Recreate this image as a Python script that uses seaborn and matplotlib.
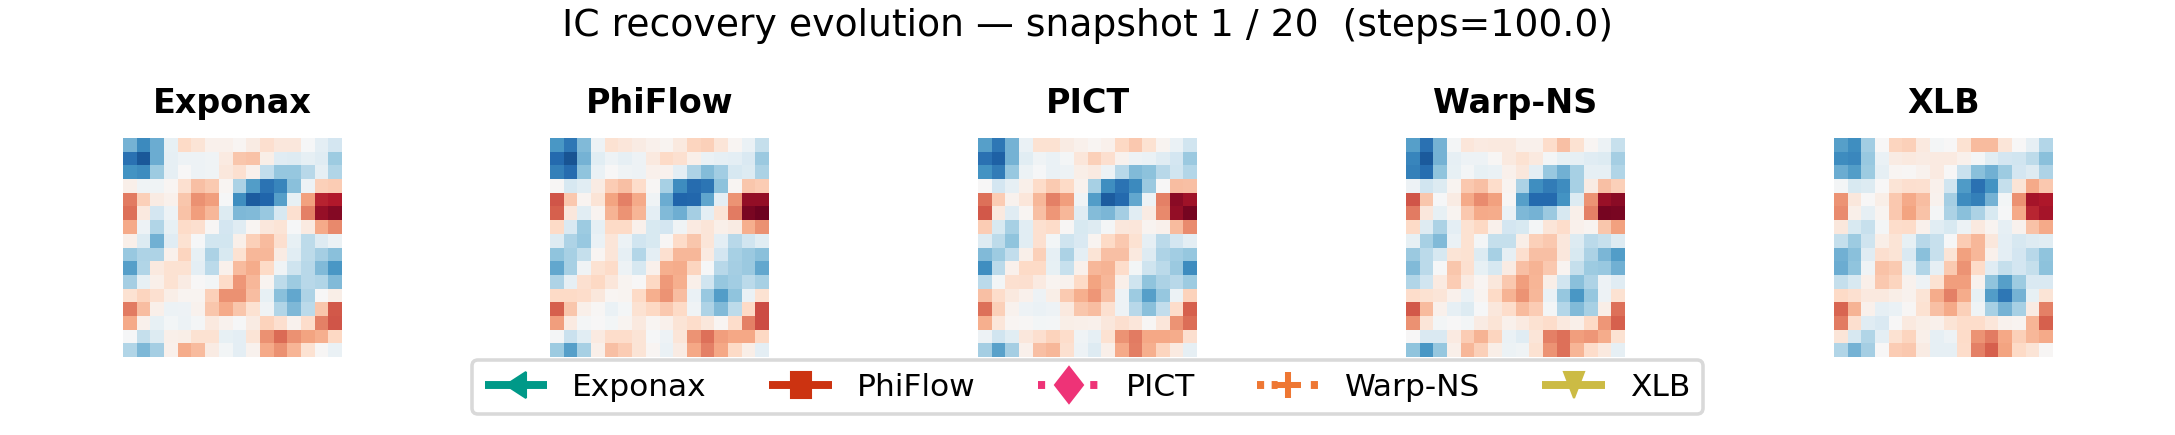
"""IC recovery snapshot: one heatmap per solver with a shared legend."""

import matplotlib

matplotlib.use('Agg')
import matplotlib.pyplot as plt
import numpy as np
import seaborn as sns
from matplotlib.lines import Line2D
from matplotlib.markers import MarkerStyle
from matplotlib.transforms import Affine2D

SOLVERS = ['Exponax', 'PhiFlow', 'PICT', 'Warp-NS', 'XLB']
SUPTITLE = 'IC recovery evolution — snapshot 1 / 20  (steps=100.0)'

EXPONAX = [
    [-.47, -.64, -.50, -.08, .20, .14, .05, .05, .02, .08, .17, .11, .11, -.01, -.10, -.18],
    [-.75, -.85, -.50, -.09, -.05, -.05, -.04, .09, .28, .29, .07, -.12, -.13, -.09, -.12, -.36],
    [-.60, -.63, -.36, -.09, .00, -.05, -.04, .11, .16, .05, -.25, -.39, -.39, -.28, -.09, -.30],
    [.06, -.04, -.04, .02, .16, .30, .26, .02, -.32, -.56, -.74, -.66, -.42, -.05, .24, .25],
    [.52, .24, .08, .05, .28, .46, .42, -.01, -.62, -.83, -.80, -.55, -.08, .41, .77, .80],
    [.55, .10, -.18, -.05, .29, .42, .33, -.14, -.45, -.44, -.38, -.17, .16, .50, .87, .92],
    [.38, -.05, -.30, -.08, .19, .17, .01, -.18, -.12, .02, .11, .14, -.01, .09, .38, .48],
    [.06, -.14, -.48, -.12, .15, -.01, -.19, -.19, .06, .24, .32, .17, -.08, -.26, -.13, -.06],
    [-.38, -.31, -.31, .05, .22, -.08, -.32, -.16, .15, .33, .33, .08, -.11, -.26, -.34, -.42],
    [-.55, -.30, .10, .15, .15, -.10, -.27, .05, .32, .37, .20, -.04, -.21, -.28, -.44, -.58],
    [-.34, -.08, .06, .15, .08, .00, -.03, .19, .44, .33, .03, -.26, -.36, -.28, -.30, -.44],
    [.15, .22, .16, .07, .03, .03, .24, .46, .46, .31, -.08, -.42, -.52, -.31, .00, .07],
    [.52, .31, .06, -.06, -.05, .04, .28, .38, .28, .15, -.04, -.30, -.45, -.27, .28, .62],
    [.38, .05, -.08, -.03, -.06, -.02, .10, .04, -.01, .08, .23, .17, .04, .18, .50, .63],
    [-.01, -.24, -.14, .06, .07, .15, .15, -.08, -.10, .14, .46, .57, .46, .40, .36, .21],
    [-.30, -.45, -.34, .05, .37, .32, .08, -.03, -.10, .04, .38, .46, .34, .15, .01, -.07],
]
PHIFLOW = [
    [-.58, -.72, -.44, -.05, .15, .12, .08, .05, .03, .10, .22, .24, .13, .02, -.07, -.24],
    [-.78, -.86, -.47, -.11, -.05, -.09, -.05, .10, .20, .16, .06, -.07, -.09, -.10, -.15, -.37],
    [-.68, -.77, -.40, -.07, .00, -.04, -.05, .05, .04, -.10, -.31, -.43, -.35, -.17, -.14, -.32],
    [.01, -.17, -.11, .08, .25, .30, .18, .01, -.33, -.63, -.77, -.73, -.41, .02, .28, .25],
    [.63, .27, .03, .14, .40, .50, .38, -.04, -.50, -.80, -.79, -.53, -.10, .45, .88, .88],
    [.60, .11, -.11, .03, .35, .45, .34, -.10, -.44, -.49, -.34, -.10, .14, .52, .95, .98],
    [.20, -.15, -.36, -.09, .20, .20, .05, -.16, -.18, -.04, .09, .13, .06, .08, .36, .46],
    [-.13, -.31, -.38, -.07, .13, -.06, -.20, -.16, .01, .19, .28, .13, -.10, -.28, -.20, -.11],
    [-.40, -.33, -.24, .02, .13, -.09, -.29, -.10, .16, .33, .33, .09, -.18, -.33, -.37, -.42],
    [-.52, -.33, -.04, .15, .19, -.05, -.17, .05, .36, .37, .22, -.01, -.28, -.34, -.37, -.52],
    [-.31, -.09, .16, .21, .12, .03, .00, .21, .43, .36, .06, -.20, -.39, -.35, -.27, -.33],
    [.20, .20, .18, .11, .02, .03, .20, .36, .45, .31, -.07, -.38, -.56, -.40, -.07, .15],
    [.60, .28, .06, .01, -.07, -.02, .15, .21, .27, .20, -.04, -.31, -.44, -.26, .20, .65],
    [.42, .09, -.02, .00, -.03, .03, .10, .02, .05, .14, .18, .11, .02, .18, .50, .65],
    [-.02, -.22, -.11, .09, .18, .18, .14, -.01, -.05, .13, .45, .55, .42, .39, .39, .21],
    [-.36, -.55, -.33, .06, .30, .25, .14, .02, -.07, .08, .39, .50, .39, .20, .07, -.10],
]
PICT = [
    [-.55, -.72, -.47, -.07, .15, .15, .08, .05, .02, .05, .21, .27, .15, .03, -.07, -.20],
    [-.75, -.82, -.47, -.11, -.04, -.07, -.02, .12, .24, .17, .04, -.05, -.07, -.12, -.18, -.37],
    [-.60, -.70, -.38, -.06, -.01, -.07, -.05, .07, .09, -.05, -.28, -.44, -.41, -.28, -.20, -.29],
    [.00, -.18, -.09, .06, .19, .26, .20, .04, -.33, -.62, -.74, -.64, -.37, .00, .31, .30],
    [.55, .25, .04, .12, .33, .50, .42, -.04, -.56, -.83, -.78, -.52, -.05, .50, .90, .85],
    [.62, .10, -.12, .02, .30, .44, .33, -.12, -.43, -.46, -.34, -.11, .08, .48, .88, .96],
    [.25, -.16, -.33, -.11, .16, .19, .01, -.16, -.13, -.02, .11, .12, .03, .05, .32, .47],
    [-.13, -.26, -.40, -.11, .16, -.03, -.21, -.15, .03, .20, .27, .15, -.09, -.27, -.18, -.10],
    [-.44, -.36, -.25, .06, .24, -.09, -.32, -.10, .14, .30, .30, .10, -.13, -.31, -.35, -.39],
    [-.62, -.27, .05, .20, .20, -.08, -.23, .05, .33, .35, .18, -.03, -.21, -.27, -.37, -.63],
    [-.27, -.03, .16, .17, .09, .03, .04, .20, .40, .33, .06, -.21, -.40, -.32, -.28, -.36],
    [.30, .18, .10, .05, -.05, .07, .26, .36, .44, .30, -.05, -.36, -.55, -.39, -.06, .23],
    [.55, .24, .04, -.05, -.07, -.05, .10, .28, .31, .16, -.05, -.28, -.42, -.25, .18, .60],
    [.36, .12, .02, .01, -.03, -.02, .07, .06, .05, .11, .17, .12, .01, .12, .45, .56],
    [-.05, -.20, -.11, .11, .17, .23, .18, -.04, -.09, .15, .45, .52, .39, .39, .37, .17],
    [-.34, -.54, -.34, .05, .30, .33, .16, -.05, -.13, .06, .38, .51, .36, .22, .09, -.09],
]
WARP_NS = [
    [-.55, -.75, -.47, -.02, .12, .09, .10, .10, .05, .05, .18, .30, .15, .02, -.06, -.23],
    [-.66, -.84, -.47, -.09, -.05, -.05, .01, .10, .15, .10, -.02, -.08, -.09, -.12, -.14, -.34],
    [-.68, -.76, -.40, -.08, -.02, -.08, -.07, .05, .11, -.10, -.38, -.48, -.33, -.09, -.09, -.30],
    [-.05, -.20, -.14, .03, .27, .30, .18, .03, -.32, -.62, -.70, -.63, -.33, .08, .30, .24],
    [.63, .28, -.01, .08, .38, .47, .41, .01, -.55, -.78, -.78, -.60, -.14, .45, .86, .90],
    [.52, .11, -.08, .03, .27, .38, .37, -.07, -.45, -.47, -.37, -.17, .06, .50, .96, .95],
    [.20, -.13, -.32, -.10, .15, .21, .05, -.18, -.16, -.02, .13, .18, .05, .03, .28, .41],
    [-.08, -.33, -.44, -.07, .15, -.02, -.24, -.24, .07, .24, .27, .11, -.14, -.27, -.23, -.13],
    [-.37, -.27, -.17, .14, .15, -.14, -.33, -.09, .17, .30, .30, .11, -.16, -.32, -.46, -.56],
    [-.44, -.27, -.01, .28, .16, -.08, -.17, .08, .30, .35, .27, .03, -.24, -.36, -.38, -.48],
    [-.30, -.20, .09, .25, .09, .02, .11, .27, .42, .34, .07, -.20, -.42, -.31, -.05, -.12],
    [.18, .15, .13, .05, -.07, .03, .20, .35, .45, .33, -.07, -.39, -.58, -.39, -.05, .15],
    [.62, .32, .05, -.09, -.14, -.01, .11, .18, .32, .25, -.02, -.29, -.44, -.33, .07, .55],
    [.46, .13, -.03, .00, -.03, .08, .14, .05, .09, .15, .18, .10, .06, .20, .44, .60],
    [.00, -.15, -.15, .09, .25, .35, .22, -.07, -.12, .13, .50, .55, .42, .44, .37, .15],
    [-.40, -.58, -.39, .06, .33, .24, .07, -.06, -.04, .15, .45, .55, .34, .18, .10, -.09],
]
XLB = [
    [-.55, -.62, -.35, .00, .22, .24, .10, -.02, .00, .15, .32, .32, .13, .00, -.09, -.29],
    [-.63, -.65, -.38, -.07, .08, .10, .08, .09, .09, .05, -.02, -.11, -.18, -.20, -.26, -.42],
    [-.50, -.56, -.36, -.09, .02, .01, .04, .09, .00, -.22, -.42, -.48, -.36, -.18, -.13, -.31],
    [-.02, -.16, -.14, .00, .14, .17, .16, .05, -.20, -.57, -.75, -.60, -.24, .14, .38, .27],
    [.45, .11, .00, .07, .27, .38, .31, .04, -.34, -.63, -.68, -.47, -.03, .46, .83, .81],
    [.47, .06, -.09, .03, .27, .40, .29, -.02, -.32, -.42, -.32, -.16, -.01, .38, .76, .83],
    [.11, -.16, -.23, -.02, .18, .19, .05, -.11, -.16, -.06, .10, .03, -.09, .04, .29, .38],
    [-.24, -.36, -.21, .07, .14, -.08, -.28, -.23, -.01, .25, .33, .11, -.10, -.17, -.13, -.11],
    [-.48, -.42, -.12, .17, .14, -.15, -.42, -.23, .14, .41, .33, .05, -.10, -.18, -.28, -.40],
    [-.50, -.40, -.04, .29, .26, -.08, -.30, -.09, .26, .45, .19, -.12, -.24, -.18, -.24, -.41],
    [-.24, -.16, .06, .27, .22, .04, -.05, .15, .42, .42, .04, -.40, -.55, -.36, -.15, -.15],
    [.20, .16, .10, .10, .07, .04, .14, .37, .50, .37, -.08, -.56, -.72, -.47, -.08, .14],
    [.58, .35, .05, -.09, -.07, .01, .15, .30, .38, .24, -.04, -.33, -.47, -.33, .08, .50],
    [.52, .17, -.12, -.15, .00, .10, .07, .05, .14, .18, .18, .12, .04, .03, .34, .60],
    [.13, -.17, -.30, -.10, .15, .22, .06, -.09, -.05, .19, .45, .52, .39, .24, .33, .38],
    [-.30, -.47, -.34, .00, .25, .27, .08, -.09, -.09, .18, .50, .60, .40, .20, .14, .01],
]
FIELDS = [EXPONAX, PHIFLOW, PICT, WARP_NS, XLB]

COLORS = ['#009988', '#cc3311', '#ee3377', '#ee7733', '#ccbb44']
MARKERS = ['<', 's', 'D', '+', 'v']
LINESTYLES = ['-', '-', (0, (0.9, 5.7)), (0, (0.9, 0.95, 0.75, 4.2, 0.9, 1)), '-']

W, H = 2175, 435
LEFTS = [123, 550, 978, 1406, 1834]
AX_TOP, AX_BOTTOM, AX_WIDTH = 138, 357, 219


def legend_handle(name, color, marker, ls):
    # the reference markers are a little taller than wide
    is_plus = marker == '+'
    style = MarkerStyle(marker, transform=Affine2D().scale(1.05 if is_plus else 0.82, 1.05))
    return Line2D(
        [],
        [],
        color=color,
        marker=style,
        linestyle=ls,
        linewidth=3.8,
        markersize=11.5,
        markeredgewidth=2.9 if is_plus else 1,
        solid_capstyle='butt',
        dash_capstyle='butt',
        label=name,
    )


def main():
    sns.set_theme(style='white')
    plt.rcParams['font.family'] = ['DejaVu Sans']
    fig = plt.figure(figsize=(14.5, 2.9), dpi=150)

    for left, name, field in zip(LEFTS, SOLVERS, FIELDS):
        ax = fig.add_axes([left / W, 1 - AX_BOTTOM / H, AX_WIDTH / W, (AX_BOTTOM - AX_TOP) / H])
        sns.heatmap(
            np.array(field),
            ax=ax,
            cmap='RdBu_r',
            vmin=-1,
            vmax=1,
            cbar=False,
            xticklabels=False,
            yticklabels=False,
        )
        ax.set_title(name, fontsize=16, fontweight='bold', color='black', pad=12)

    fig.suptitle(SUPTITLE, fontsize=18.15, color='black', x=0.5, y=1 - 26 / H, va='center')

    handles = [legend_handle(*row) for row in zip(SOLVERS, COLORS, MARKERS, LINESTYLES)]
    legend = fig.legend(
        handles=handles,
        loc='center',
        bbox_to_anchor=(0.5, 1 - 387 / H),
        ncol=5,
        fontsize=15,
        frameon=True,
        framealpha=1,
        edgecolor='#d9d9d9',
        labelcolor='black',
    )
    legend.get_frame().set_linewidth(1.7)

    fig.savefig('out.png', dpi=150)


if __name__ == '__main__':
    main()
